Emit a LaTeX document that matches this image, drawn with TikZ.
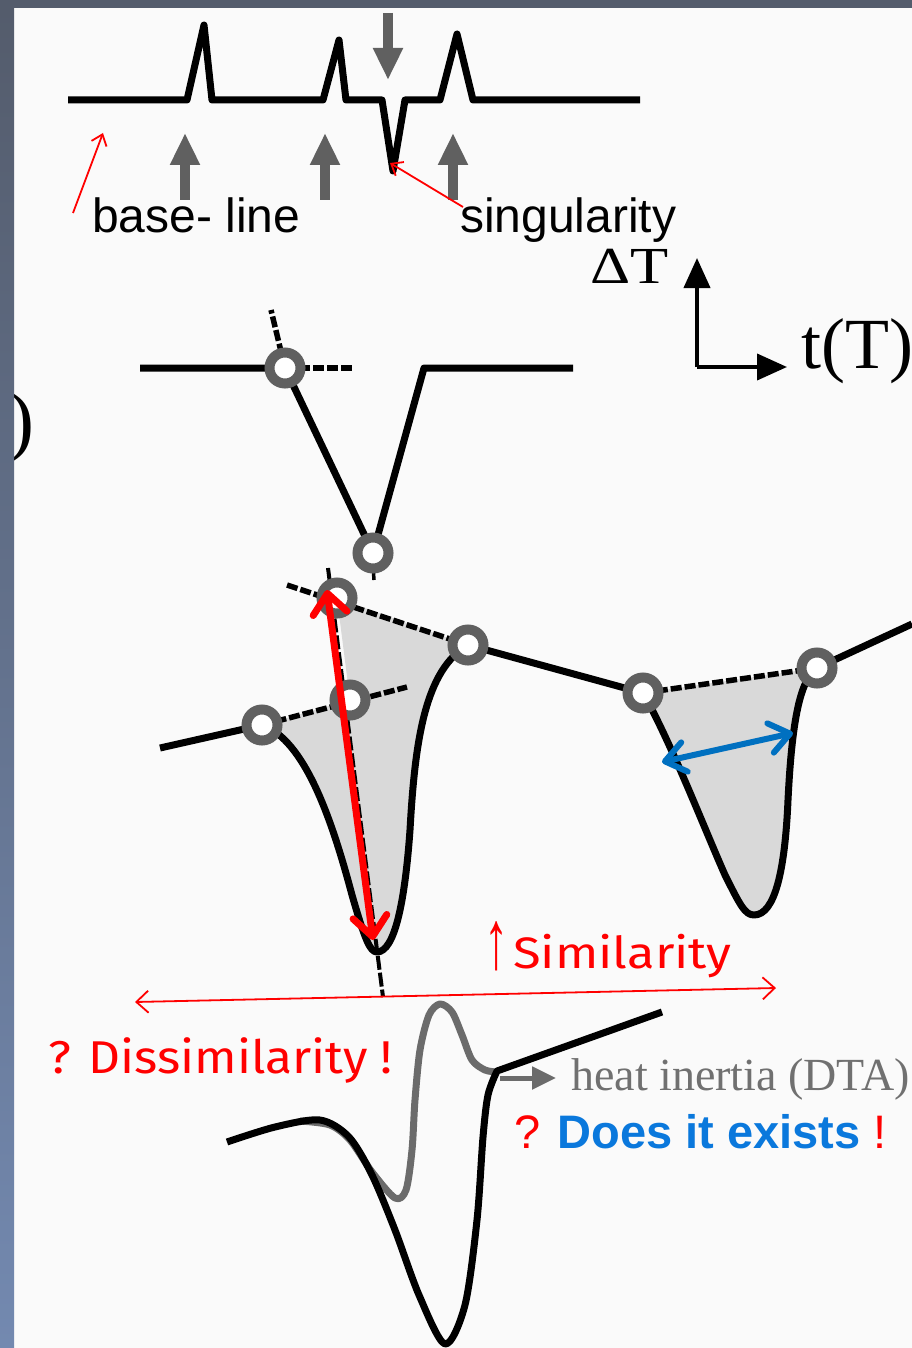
\documentclass[tikz,border=0pt]{standalone}
\usepackage{fontspec}
\setmainfont{Liberation Serif}
\newfontfamily\arialfont{Liberation Sans}
\newfontfamily\comicfont{Fira Sans}
\usetikzlibrary{arrows.meta}
\definecolor{frame}{HTML}{545C6C}
\definecolor{framelow}{HTML}{7389B0}
\definecolor{paper}{HTML}{FAFAFA}
\definecolor{markgray}{HTML}{606060}
\definecolor{shadegray}{HTML}{D9D9D9}
\definecolor{dtagray}{HTML}{6B6B6B}
\definecolor{textgray}{HTML}{707070}
\definecolor{arrowblue}{HTML}{0070C0}
\definecolor{textblue}{HTML}{0A78DC}

\tikzset{
  trace/.style={line width=7pt, line join=round},
  guide/.style={line width=5.5pt, dash pattern=on 11pt off 3pt},
  ring/.style={circle, draw=markgray, fill=white, line width=10pt, minimum size=31pt, inner sep=0pt},
  marker/.style={draw=markgray, line width=10pt, -{Triangle[width=28pt,length=32pt]}},
  axis/.style={line width=4pt, -{Triangle[width=26pt,length=30pt]}},
  redthin/.style={red, line width=1.8pt, -{Straight Barb[length=10pt,width=16pt]}},
  lbl/.style={inner sep=0pt, anchor=base west}
}

\begin{document}
\begin{tikzpicture}[x=1pt, y=-1pt]
  \useasboundingbox (0,0) rectangle (912,1348);
  \fill[frame] (0,0) rectangle (912,1348);
  \fill[paper] (14,8) rectangle (912,1348);

  % singularities on a base line
  \draw[trace] (68,100) -- (187,100) -- (204,25) -- (212,100) -- (323,100) -- (339,40) -- (346,100)
    -- (382,100) -- (393,171) -- (405,100) -- (440,100) -- (457,34) -- (473,100) -- (640,100);
  \foreach \x in {185,325,453}
    \draw[marker] (\x,200) -- (\x,133);
  \draw[marker] (388,13) -- (388,80);
  \node[lbl, font=\arialfont\fontsize{48}{56}\selectfont] (lblbase) at (92,233) {base- line};
  \node[lbl, font=\arialfont\fontsize{48}{56}\selectfont] (lblsing) at (460,233) {singularity};
  \coordinate (basetip) at (103,133);
  \coordinate (singtip) at (390,163);
  \draw[redthin] (73,213) -- (basetip);
  \draw[redthin] (463,207) -- (singtip);

  % axes
  \coordinate (origin) at (697,367);
  \draw[axis] (origin) -- (697,258);
  \draw[axis] (origin) -- (787,367);
  \node[lbl, font=\fontsize{52}{60}\selectfont] (lbldt) at (590,283) {\scalebox{1.2}[1]{ΔT}};
  \node[lbl, font=\fontsize{72}{80}\selectfont] (lbltt) at (801,368) {t(T)};
  \node[inner sep=0pt, anchor=base east, font=\fontsize{78}{80}\selectfont] (lblparen) at (35,446) {)};

  % sharp peak
  \draw[trace] (140,368) -- (285,368) -- (373,553) -- (424,368) -- (573,368);
  \draw[guide] (285,368) -- (353,368);
  \draw[guide] (285,368) -- (271,310);
  \draw[line width=3.5pt] (373,566) -- (374,580);

  % first real peak
  \fill[shadegray] (262,725) -- (350,700) -- (337,598) -- (468,645)
    .. controls (425,670) and (415,740) .. (410,830) .. controls (405,900) and (395,952) .. (377,952)
    .. controls (370,952) and (365,940) .. (352,895) .. controls (332,820) and (305,740) .. cycle;
  \draw[line width=4pt, dash pattern=on 14pt off 3pt] (328,568) -- (383,997);
  \draw[guide] (287,585) -- (468,645);
  \draw[trace] (160,748) -- (262,725);
  \draw[guide] (262,725) -- (407,687);
  \draw[trace] (262,725) .. controls (305,740) and (332,820) .. (352,895) .. controls (365,940) and (370,952) .. (377,952)
    .. controls (395,952) and (405,900) .. (410,830) .. controls (415,740) and (425,670) .. (468,645);
  \draw[trace] (468,645) -- (643,693);
  \draw[guide] (643,693) -- (735,722);

  % second real peak
  \fill[shadegray] (643,693) -- (817,668)
    .. controls (800,680) and (792,720) .. (788,800) .. controls (785,870) and (775,915) .. (754,915)
    .. controls (745,915) and (740,905) .. (725,875) .. controls (705,830) and (670,740) .. cycle;
  \draw[guide] (643,693) -- (817,668);
  \draw[trace] (643,693) .. controls (670,740) and (705,830) .. (725,875) .. controls (740,905) and (745,915) .. (754,915)
    .. controls (775,915) and (785,870) .. (788,800) .. controls (792,720) and (800,680) .. (817,668);
  \draw[trace] (817,668) -- (912,624);

  \foreach \n/\x/\y in {ra/285/368, rb/373/553, rc/337/598, rd/468/645, re/262/725, rf/350/700, rg/643/693, rh/817/668}
    \node[ring] (\n) at (\x,\y) {};

  \draw[red, line width=7pt, {Straight Barb[length=20pt,width=34pt,round]}-{Straight Barb[length=20pt,width=34pt,round]}] (327,590) -- (373,940);
  \draw[arrowblue, line width=6pt, {Straight Barb[length=20pt,width=30pt,round]}-{Straight Barb[length=20pt,width=30pt,round]}] (662,762) -- (793,733);

  % similarity / dissimilarity
  \node[lbl, red, font=\comicfont\fontsize{44}{50}\selectfont] (lblsim) at (484,968)
    {\scalebox{1.1}[1.9]{\arialfont ↑}\hspace{5pt}\scalebox{1.15}[1]{Similarity}};
  \draw[red, line width=1.8pt, {Straight Barb[length=12pt,width=22pt]}-{Straight Barb[length=12pt,width=22pt]}] (135,1002) -- (776,988);
  \node[lbl, red, font=\comicfont\fontsize{46}{52}\selectfont] (lbldis) at (48,1073) {\scalebox{1.08}[1]{? Dissimilarity !}};

  % DTA curves
  \draw[dtagray, trace] plot[smooth] coordinates
    {(300,1121) (330,1125) (350,1140) (372,1172) (395,1198) (406,1190) (412,1150) (415,1100) (420,1050) (429,1015) (440,1004) (452,1012) (462,1035) (472,1060) (485,1070) (497,1072)};
  \draw[trace] plot[smooth] coordinates
    {(227,1142) (275,1127) (320,1120) (349,1137) (372,1175) (395,1230) (419,1295) (445,1344) (465,1305) (477,1220) (483,1137) (488,1095) (497,1071)} -- (662,1012);
  \coordinate (dtacorner) at (500,1078);
  \draw[dtagray, line width=5pt, -{Triangle[width=22pt,length=24pt]}] (dtacorner) -- (556,1078);
  \node[lbl, textgray, font=\fontsize{46}{52}\selectfont] (lblheat) at (571,1090) {heat inertia (DTA)};
  \node[lbl, font=\arialfont\fontsize{47}{56}\selectfont] (lblexist) at (514,1148)
    {\textcolor{red}{?} \textcolor{textblue}{\bfseries Does it exists} \textcolor{red}{!}};

  \shade[top color=frame, bottom color=framelow] (0,8) rectangle (14,1348);
\end{tikzpicture}
\end{document}
